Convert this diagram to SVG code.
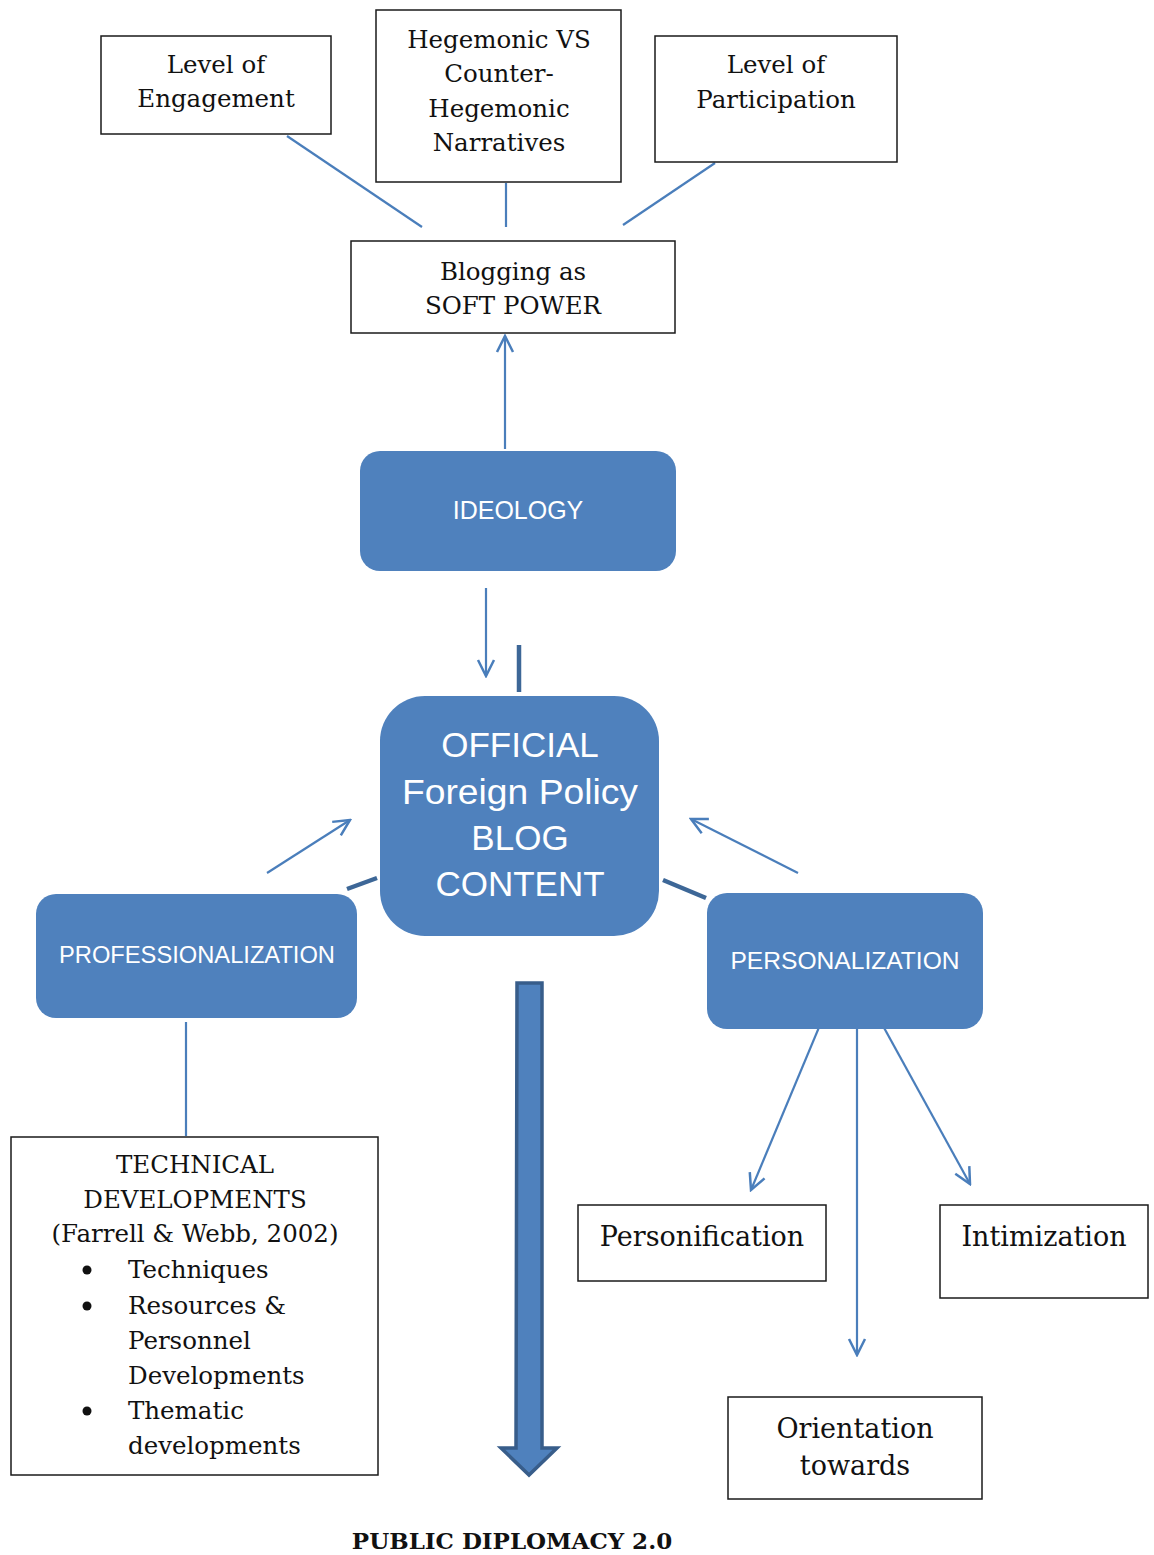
<svg xmlns="http://www.w3.org/2000/svg" width="1154" height="1555" viewBox="0 0 1154 1555">
  <defs>
    <style>
      .box { fill: #ffffff; stroke: #1a1a1a; stroke-width: 1.5; }
      .pill { fill: #4f81bd; stroke: none; }
      .serif { font-family: "DejaVu Serif", "Liberation Serif", serif; fill: #111111; text-anchor: middle; }
      .serif-l { font-family: "DejaVu Serif", "Liberation Serif", serif; fill: #111111; }
      .sans { font-family: "Liberation Sans", Arial, sans-serif; fill: #ffffff; text-anchor: middle; }
      .link { stroke: #4a7ebb; stroke-width: 2.2; fill: none; }
      .bar { stroke: #3d6797; stroke-width: 4.5; fill: none; }
    </style>
    <marker id="open-head" viewBox="0 0 20 20" refX="18" refY="10" markerWidth="20" markerHeight="20" markerUnits="userSpaceOnUse" orient="auto">
      <path d="M2,2 L18,10 L2,18" fill="none" stroke="#4a7ebb" stroke-width="2.5"/>
    </marker>
  </defs>

  <rect width="1154" height="1555" fill="#ffffff"/>

  <!-- connectors -->
  <g id="connectors">
    <line class="link" x1="287" y1="136" x2="422" y2="227"/>
    <line class="link" x1="506" y1="183" x2="506" y2="227"/>
    <line class="link" x1="715" y1="163" x2="623" y2="225"/>
    <line class="link" x1="505" y1="449" x2="505" y2="336" marker-end="url(#open-head)"/>
    <line class="link" x1="486" y1="588" x2="486" y2="676" marker-end="url(#open-head)"/>
    <line class="bar" x1="519" y1="645" x2="519" y2="692"/>
    <line class="bar" x1="347" y1="889" x2="377" y2="878"/>
    <line class="bar" x1="663" y1="880" x2="706" y2="898"/>
    <line class="link" x1="267" y1="873" x2="350" y2="820" marker-end="url(#open-head)"/>
    <line class="link" x1="798" y1="873" x2="691" y2="819" marker-end="url(#open-head)"/>
    <line class="link" x1="186" y1="1022" x2="186" y2="1136"/>
    <line class="link" x1="825" y1="1013" x2="751" y2="1190" marker-end="url(#open-head)"/>
    <line class="link" x1="857" y1="1023" x2="857" y2="1355" marker-end="url(#open-head)"/>
    <line class="link" x1="877" y1="1015" x2="970" y2="1184" marker-end="url(#open-head)"/>
    <!-- broad downward arrow -->
    <polygon points="517,983 542,983 542,1448 557,1448 529,1475 501,1448 516,1448" fill="#4f81bd" stroke="#385d8a" stroke-width="3.5" stroke-linejoin="miter"/>
  </g>

  <g id="level-engagement">
    <rect class="box" x="101" y="36" width="230" height="98"/>
    <text class="serif" font-size="24.5" x="216" y="73">Level of</text>
    <text class="serif" font-size="24.5" x="216" y="107">Engagement</text>
  </g>

  <g id="hegemonic">
    <rect class="box" x="376" y="10" width="245" height="172"/>
    <text class="serif" font-size="24.5" x="499" y="48">Hegemonic VS</text>
    <text class="serif" font-size="24.5" x="499" y="82">Counter-</text>
    <text class="serif" font-size="24.5" x="499" y="117">Hegemonic</text>
    <text class="serif" font-size="24.5" x="499" y="151">Narratives</text>
  </g>

  <g id="level-participation">
    <rect class="box" x="655" y="36" width="242" height="126"/>
    <text class="serif" font-size="24.5" x="776" y="73">Level of</text>
    <text class="serif" font-size="24.5" x="776" y="108">Participation</text>
  </g>

  <g id="soft-power">
    <rect class="box" x="351" y="241" width="324" height="92"/>
    <text class="serif" font-size="24.5" x="513" y="280">Blogging as</text>
    <text class="serif" font-size="24.5" x="513" y="314">SOFT POWER</text>
  </g>

  <g id="ideology">
    <rect class="pill" x="360" y="451" width="316" height="120" rx="20" ry="20"/>
    <text class="sans" font-size="25" x="518" y="519">IDEOLOGY</text>
  </g>

  <g id="blog-content">
    <rect class="pill" x="380" y="696" width="279" height="240" rx="45" ry="45"/>
    <text class="sans" font-size="35" x="520" y="757">OFFICIAL</text>
    <text class="sans" font-size="35" x="520" y="804" textLength="236" lengthAdjust="spacingAndGlyphs">Foreign Policy</text>
    <text class="sans" font-size="35" x="520" y="850">BLOG</text>
    <text class="sans" font-size="35" x="520" y="896">CONTENT</text>
  </g>

  <g id="professionalization">
    <rect class="pill" x="36" y="894" width="321" height="124" rx="20" ry="20"/>
    <text class="sans" font-size="23.7" x="197" y="963">PROFESSIONALIZATION</text>
  </g>

  <g id="personalization">
    <rect class="pill" x="707" y="893" width="276" height="136" rx="20" ry="20"/>
    <text class="sans" font-size="24.6" x="845" y="969">PERSONALIZATION</text>
  </g>

  <g id="technical">
    <rect class="box" x="11" y="1137" width="367" height="338"/>
    <text class="serif" font-size="24.5" x="195" y="1173">TECHNICAL</text>
    <text class="serif" font-size="24.5" x="195" y="1208">DEVELOPMENTS</text>
    <text class="serif" font-size="24.5" x="195" y="1242">(Farrell &amp; Webb, 2002)</text>
    <circle cx="87" cy="1270" r="4.5" fill="#111111"/>
    <circle cx="87" cy="1306" r="4.5" fill="#111111"/>
    <circle cx="87" cy="1411" r="4.5" fill="#111111"/>
    <text class="serif-l" font-size="24.5" x="128" y="1278">Techniques</text>
    <text class="serif-l" font-size="24.5" x="128" y="1314">Resources &amp;</text>
    <text class="serif-l" font-size="24.5" x="128" y="1349">Personnel</text>
    <text class="serif-l" font-size="24.5" x="128" y="1384">Developments</text>
    <text class="serif-l" font-size="24.5" x="128" y="1419">Thematic</text>
    <text class="serif-l" font-size="24.5" x="128" y="1454">developments</text>
  </g>

  <g id="personification">
    <rect class="box" x="578" y="1205" width="248" height="76"/>
    <text class="serif" font-size="27" x="702" y="1246">Personification</text>
  </g>

  <g id="intimization">
    <rect class="box" x="940" y="1205" width="208" height="93"/>
    <text class="serif" font-size="27" x="1044" y="1246">Intimization</text>
  </g>

  <g id="orientation">
    <rect class="box" x="728" y="1397" width="254" height="102"/>
    <text class="serif" font-size="27" x="855" y="1438">Orientation</text>
    <text class="serif" font-size="27" x="855" y="1475">towards</text>
  </g>

  <g id="public-diplomacy">
    <text class="serif" font-size="23" font-weight="bold" x="512" y="1549">PUBLIC DIPLOMACY 2.0</text>
  </g>
</svg>
